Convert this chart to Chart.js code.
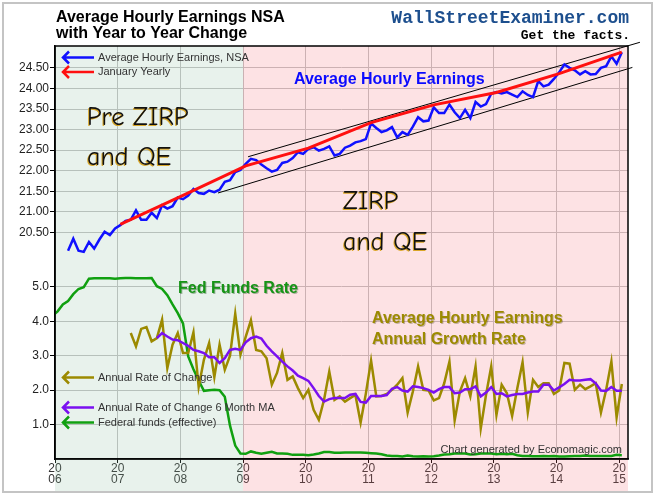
<!DOCTYPE html>
<html>
<head>
<meta charset="utf-8">
<script src="https://cdn.jsdelivr.net/npm/chart.js@4.4.1/dist/chart.umd.min.js"></script>
<style>
  body { margin: 0; background: #fff; }
  canvas { display: block; }
</style>
</head>
<body>
<canvas id="chart" width="657" height="497"></canvas>
<script>
// ---- data ----
// average hourly earnings, NSA, monthly from Mar 2006
var earningsStart = [2006, 3];
var earnings = [
    20.06, 20.35, 20.06, 20.03, 20.27, 20.11, 20.33, 20.52, 20.44, 20.60,
    20.68, 20.78, 20.81, 21.04, 20.81, 20.81, 20.98, 20.85, 21.16, 21.08, 21.14, 21.35,
    21.31, 21.40, 21.56, 21.46, 21.44, 21.52, 21.48, 21.54, 21.73, 21.77, 21.97, 22.02,
    22.17, 22.29, 22.26, 22.15, 22.06, 21.98, 22.02, 22.19, 22.22, 22.31, 22.45, 22.41,
    22.53, 22.57, 22.49, 22.53, 22.59, 22.37, 22.41, 22.56, 22.61, 22.69, 22.72, 22.77,
    23.15, 23.04, 22.94, 22.98, 23.06, 22.81, 22.94, 22.87, 23.07, 23.30, 23.20, 23.22,
    23.54, 23.40, 23.40, 23.61, 23.42, 23.28, 23.48, 23.28, 23.67, 23.56, 23.62, 23.87,
    23.91, 23.88, 23.91, 23.85, 23.79, 23.93, 23.84, 23.79, 24.18, 24.05, 24.09, 24.23,
    24.39, 24.58, 24.50, 24.44, 24.34, 24.42, 24.34, 24.35, 24.50, 24.54, 24.78, 24.60,
    24.88
];

// january yearly line
var januaryYears = [2007, 2008, 2009, 2010, 2011, 2012, 2013, 2014, 2015];
var januaryValues = [20.70, 21.40, 22.12, 22.55, 23.17, 23.60, 23.90, 24.36, 24.88];

// annual rate of change (%), monthly from Mar 2007
var changeStart = [2007, 3];
var annualChange = [
    3.66, 3.27, 3.78, 3.83, 3.42, 3.51, 4.05, 2.64, 3.32, 3.66,
    3.08, 3.08, 3.68, 2.09, 2.88, 3.37, 2.38, 3.32, 2.59, 3.00, 4.22, 3.03,
    3.55, 4.03, 3.17, 3.13, 2.93, 2.16, 2.50, 3.08, 2.30, 2.40, 2.06, 1.77,
    2.01, 1.43, 1.14, 1.72, 2.54, 1.72, 1.82, 1.67, 1.77, 1.86, 1.06, 1.90,
    2.86, 1.82, 1.83, 1.89, 2.01, 2.16, 2.35, 1.35, 1.96, 2.69, 2.01, 1.99,
    1.70, 1.77, 2.20, 2.83, 1.12, 1.96, 2.35, 1.82, 2.69, 0.89, 1.86, 2.69,
    1.28, 2.16, 1.91, 1.25, 2.06, 2.81, 1.35, 2.30, 2.09, 2.20, 2.20, 1.89,
    1.99, 2.79, 2.77, 2.01, 2.16, 2.03, 2.11, 2.20, 1.35, 2.01, 2.83, 1.21,
    2.18
];

// 6 month moving average of the above, monthly from Aug 2007
var maStart = [2007, 8];
var changeMA = [
    3.51, 3.66, 3.56, 3.47, 3.45,
    3.37, 3.29, 3.17, 3.13, 3.08, 2.96, 2.96, 2.79, 2.93, 3.17, 3.20, 3.17,
    3.39, 3.51, 3.56, 3.50, 3.29, 3.13, 2.98, 2.83, 2.69, 2.57, 2.42, 2.35,
    2.27, 2.06, 1.83, 1.67, 1.74, 1.77, 1.77, 1.77, 1.87, 1.89, 1.66, 1.64,
    1.83, 1.83, 1.83, 1.86, 2.04, 2.09, 1.99, 1.96, 2.11, 2.09, 2.06, 2.01,
    1.93, 2.03, 2.09, 2.09, 1.91, 1.93, 2.03, 2.03, 2.11, 1.82, 1.93, 2.09,
    1.89, 1.91, 1.82, 1.86, 1.89, 1.89, 1.93, 1.96, 1.96, 2.16, 2.16, 1.99,
    2.08, 2.18, 2.30, 2.28, 2.28, 2.30, 2.32, 2.20, 1.99, 1.98, 2.09, 1.98,
    1.98
];

// federal funds (effective), monthly from Dec 2005
var fedStart = [2005, 12];
var fedFunds = [
    4.16,
    4.29, 4.49, 4.59, 4.79, 4.94, 4.99, 5.24, 5.25, 5.25, 5.25, 5.25, 5.24,
    5.25, 5.26, 5.26, 5.25, 5.25, 5.25, 5.26, 5.02, 4.94, 4.76, 4.49, 4.24,
    3.94, 2.98, 2.61, 2.28, 1.98, 2.00, 2.01, 2.00, 1.81, 0.97, 0.39, 0.16,
    0.15, 0.22, 0.18, 0.15, 0.18, 0.21, 0.16, 0.16, 0.15, 0.12, 0.12, 0.12,
    0.11, 0.13, 0.16, 0.20, 0.20, 0.18, 0.18, 0.19, 0.19, 0.19, 0.19, 0.18,
    0.17, 0.16, 0.14, 0.10, 0.09, 0.09, 0.07, 0.10, 0.08, 0.07, 0.08, 0.07,
    0.08, 0.10, 0.13, 0.14, 0.16, 0.16, 0.16, 0.13, 0.14, 0.16, 0.16, 0.16,
    0.14, 0.15, 0.14, 0.15, 0.11, 0.09, 0.09, 0.08, 0.08, 0.09, 0.08, 0.09,
    0.07, 0.07, 0.08, 0.09, 0.09, 0.10, 0.09, 0.09, 0.09, 0.09, 0.09, 0.12,
    0.11
];

// hand drawn trend channel (year, dollars)
var channelTopX = [2009.08, 2015.33];
var channelTopY = [22.34, 25.12];
var channelLowX = [2008.60, 2015.21];
var channelLowY = [21.46, 24.51];

// axis ticks
var yearTicks = [2006, 2007, 2008, 2009, 2010, 2011, 2012, 2013, 2014, 2015];
var earningsTicks = [20.5, 21, 21.5, 22, 22.5, 23, 23.5, 24, 24.5];
var rateTicks = [1, 2, 3, 4, 5];
var zirpYear = 2009;

function monthly(start, values) {
    return values.map(function (v, i) {
        var m = start[1] - 1 + i;
        return { x: start[0] + (m + 0.5) / 12, y: v };
    });
}

function pairs(xs, ys) {
    return xs.map(function (x, i) { return { x: x, y: ys[i] }; });
}

var sans = "'Liberation Sans', Arial, sans-serif";

function line(data, color, axis, width) {
    return {
        data: data,
        yAxisID: axis,
        borderColor: color,
        borderWidth: width || 2.5,
        pointRadius: 0,
        tension: 0,
        fill: false
    };
}

// the percent axis has zero width so it sits on the same edge as the dollar axis;
// widen its box after layout so its labels are not clipped away
var shareEdge = {
    id: 'shareEdge',
    afterLayout: function (chart) {
        var s = chart.scales.yRate;
        s.left = s.right - 55;
    }
};

// shaded periods, drawn over the grid so the grid picks up the tint
var shading = {
    id: 'shading',
    beforeDatasetsDraw: function (chart) {
        var ctx = chart.ctx, a = chart.chartArea, x = chart.scales.x;
        var x0 = x.getPixelForValue(yearTicks[0]);
        var x1 = x.getPixelForValue(zirpYear);
        ctx.save();
        ctx.fillStyle = 'rgba(140,190,160,0.2)';
        ctx.fillRect(x0, a.top, x1 - x0, 491 - a.top);
        ctx.fillStyle = 'rgba(245,110,120,0.2)';
        ctx.fillRect(x1, a.top, a.right - x1, 491 - a.top);
        ctx.restore();
    }
};

function arrow(ctx, y, color, label) {
    ctx.strokeStyle = color;
    ctx.lineWidth = 2.5;
    ctx.beginPath();
    ctx.moveTo(94, y);
    ctx.lineTo(63, y);
    ctx.moveTo(69, y - 6);
    ctx.lineTo(63, y);
    ctx.lineTo(69, y + 6);
    ctx.stroke();
    ctx.fillStyle = '#333';
    ctx.font = '11px ' + sans;
    ctx.textBaseline = 'middle';
    ctx.textAlign = 'left';
    ctx.fillText(label, 98, y);
}

var notes = {
    id: 'notes',
    afterDatasetsDraw: function (chart) {
        var ctx = chart.ctx;
        ctx.save();
        arrow(ctx, 57.5, '#1010ff', 'Average Hourly Earnings, NSA');
        arrow(ctx, 72, '#ff1010', 'January Yearly');
        arrow(ctx, 377.5, '#9c8a00', 'Annual Rate of Change');
        arrow(ctx, 407.5, '#7a10f0', 'Annual Rate of Change 6 Month MA');
        arrow(ctx, 422.5, '#10a010', 'Federal funds (effective)');

        ctx.textBaseline = 'middle';
        ctx.font = 'bold 16px ' + sans;
        ctx.fillStyle = '#0a0aff';
        ctx.fillText('Average Hourly Earnings', 294, 80);

        ctx.shadowColor = 'rgba(0,60,0,0.35)';
        ctx.shadowOffsetX = 1;
        ctx.shadowOffsetY = 1;
        ctx.fillStyle = '#169416';
        ctx.fillText('Fed Funds Rate', 178, 289);
        ctx.shadowColor = 'rgba(60,50,0,0.3)';
        ctx.fillStyle = '#9c8a00';
        ctx.fillText('Average Hourly Earnings', 372, 319);
        ctx.fillText('Annual Growth Rate', 372, 340);

        ctx.font = "26px 'Comic Sans MS', 'Comic Neue', 'Noto Sans', sans-serif";
        ctx.fillStyle = '#111';
        ctx.shadowColor = 'rgba(215,160,20,0.9)';
        ctx.shadowOffsetX = -1;
        ctx.shadowOffsetY = 1;
        ctx.fillText('Pre ZIRP', 87, 118);
        ctx.fillText('and QE', 87, 158);
        ctx.fillText('ZIRP', 343, 202);
        ctx.fillText('and QE', 343, 243);
        ctx.shadowColor = 'transparent';

        ctx.font = '11px ' + sans;
        ctx.fillStyle = '#333';
        ctx.textAlign = 'right';
        ctx.fillText('Chart generated by Economagic.com', 622, 450);
        ctx.restore();
    },
    afterDraw: function (chart) {
        var ctx = chart.ctx, a = chart.chartArea;
        ctx.save();
        // plot box
        ctx.strokeStyle = '#000';
        ctx.lineWidth = 1.5;
        ctx.strokeRect(a.left, a.top, a.right - a.left, a.bottom - a.top);
        // outer frame
        ctx.strokeStyle = '#c4c4c4';
        ctx.lineWidth = 2;
        ctx.strokeRect(3, 3, 649, 489);

        // titles
        ctx.fillStyle = '#000';
        ctx.font = 'bold 16px ' + sans;
        ctx.textBaseline = 'alphabetic';
        ctx.textAlign = 'left';
        ctx.fillText('Average Hourly Earnings NSA', 56, 22);
        ctx.fillText('with Year to Year Change', 56, 38);

        ctx.textAlign = 'right';
        ctx.font = "bold 18px 'Liberation Mono', 'DejaVu Sans Mono', monospace";
        ctx.fillStyle = '#1d4f8e';
        ctx.fillText('WallStreetExaminer.com', 629, 23);
        ctx.font = "bold 13px 'Liberation Mono', 'DejaVu Sans Mono', monospace";
        ctx.fillStyle = '#000';
        ctx.fillText('Get the facts.', 630, 39);
        ctx.restore();
    }
};

var gridColor = '#c2c2c2';

new Chart(document.getElementById('chart'), {
    type: 'line',
    data: {
        datasets: [
            line(pairs(januaryYears.map(function (y) { return y + 0.5 / 12; }), januaryValues), '#ff1010', 'yEarn', 3),
            line(monthly(earningsStart, earnings), '#1010ff', 'yEarn', 2.5),
            line(monthly(maStart, changeMA), '#7a10f0', 'yRate', 2.5),
            line(monthly(changeStart, annualChange), '#9c8a00', 'yRate', 2.5),
            line(monthly(fedStart, fedFunds), '#10a010', 'yRate', 2.5),
            Object.assign(line(pairs(channelTopX, channelTopY), '#000', 'yEarn', 1), { clip: false }),
            Object.assign(line(pairs(channelLowX, channelLowY), '#000', 'yEarn', 1), { clip: false })
        ]
    },
    options: {
        responsive: false,
        animation: false,
        devicePixelRatio: 1,
        layout: { padding: { left: 0, top: 46, right: 29, bottom: 0 } },
        plugins: {
            legend: { display: false },
            tooltip: { enabled: false }
        },
        scales: {
            x: {
                type: 'linear',
                min: 2006,
                max: 2015.14,
                afterBuildTicks: function (scale) {
                    scale.ticks = yearTicks.map(function (v) { return { value: v }; });
                },
                afterFit: function (scale) { scale.height = 38; },
                ticks: {
                    autoSkip: false,
                    maxRotation: 0,
                    minRotation: 0,
                    padding: 0,
                    color: '#333',
                    font: { family: sans, size: 12, lineHeight: 0.95 },
                    callback: function (v) {
                        var s = String(v);
                        return [s.slice(0, 2), s.slice(2)];
                    }
                },
                grid: { color: gridColor, tickColor: '#000', tickLength: 4 },
                border: { color: '#000', width: 1.5 }
            },
            // both value axes share the left edge: dollars outside, percent inside
            yEarn: {
                position: 'left',
                weight: 1,
                min: 15,
                max: 25.03,
                afterBuildTicks: function (scale) {
                    scale.ticks = earningsTicks.map(function (v) { return { value: v }; });
                },
                afterFit: function (scale) { scale.width = 55; },
                ticks: {
                    padding: 1,
                    color: '#222',
                    font: { family: sans, size: 12 },
                    callback: function (v) { return v.toFixed(2); }
                },
                grid: { color: gridColor, tickColor: '#000', tickLength: 5 },
                border: { color: '#000', width: 1.5 }
            },
            yRate: {
                position: 'left',
                weight: 0,
                min: 0,
                max: 12,
                afterBuildTicks: function (scale) {
                    scale.ticks = rateTicks.map(function (v) { return { value: v }; });
                },
                afterFit: function (scale) { scale.width = 0; },
                ticks: {
                    padding: 1,
                    color: '#222',
                    font: { family: sans, size: 12 },
                    callback: function (v) { return v.toFixed(1); }
                },
                grid: { color: gridColor, tickColor: '#000', tickLength: 5 },
                border: { display: false }
            }
        }
    },
    plugins: [shareEdge, shading, notes]
});
</script>
</body>
</html>
